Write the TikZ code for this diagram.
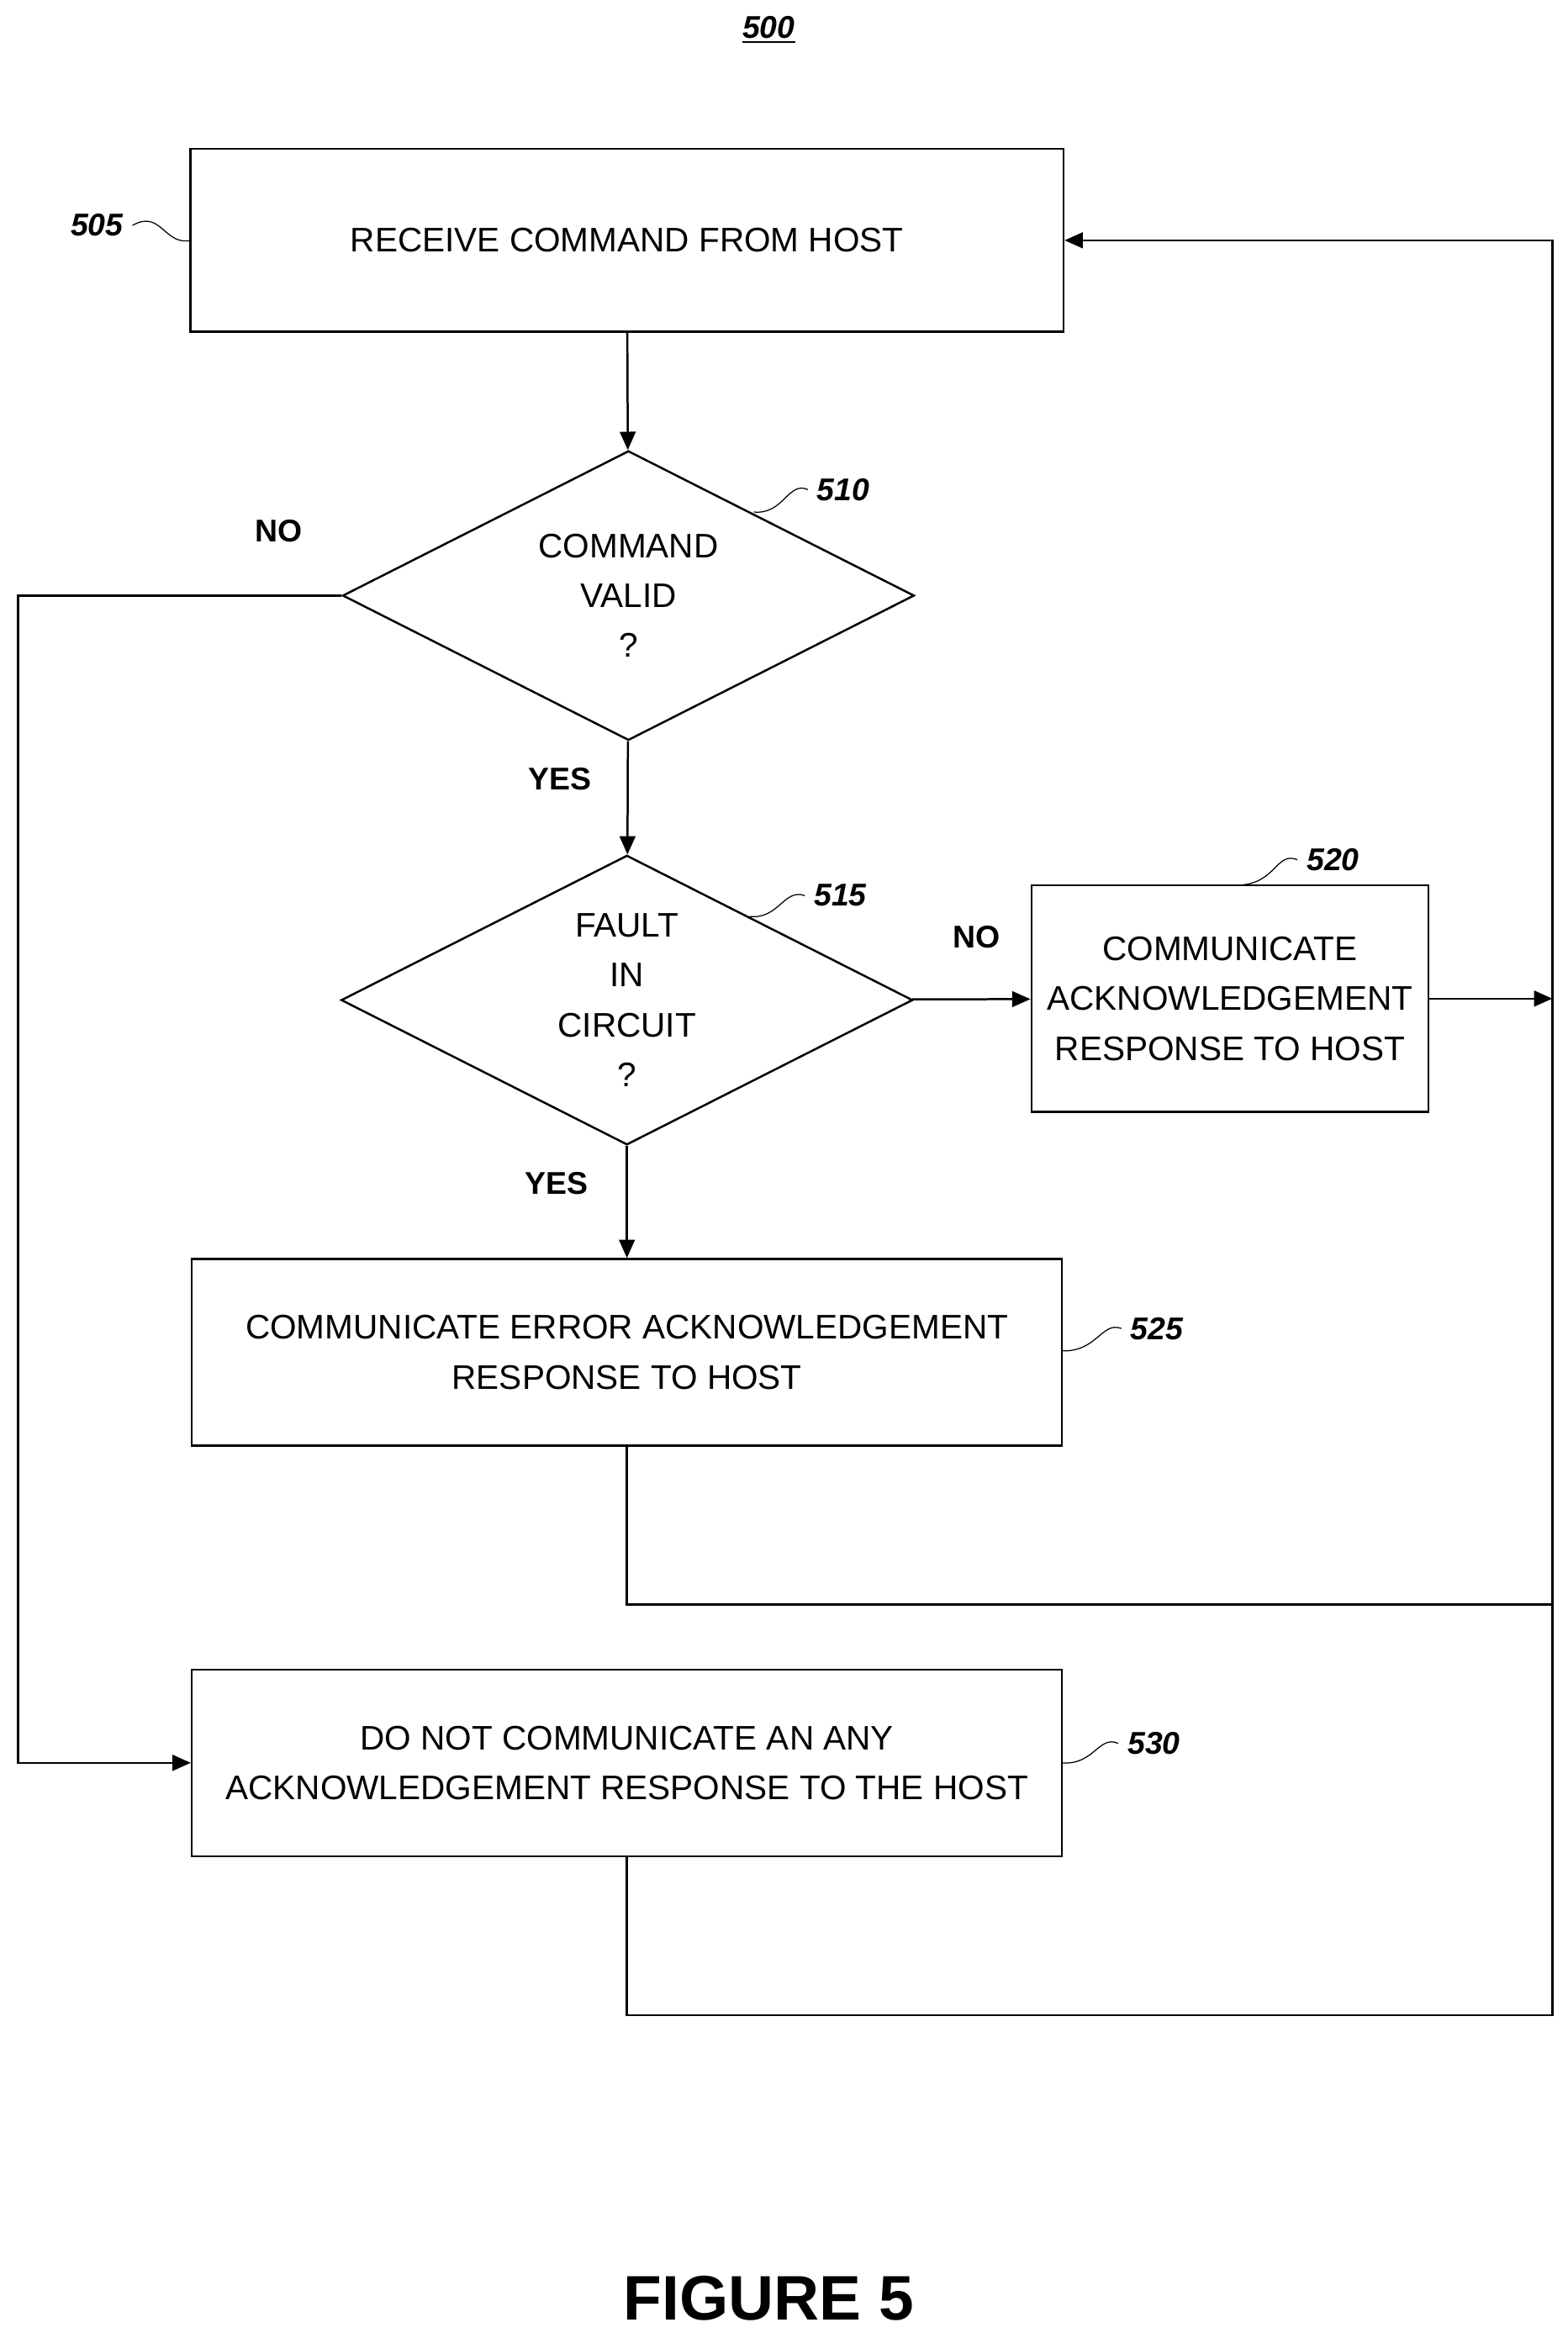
\documentclass[tikz,border=0pt]{standalone}
\usepackage{fontspec}
\setmainfont{Liberation Sans}
\usetikzlibrary{arrows.meta, calc, shapes.geometric}

\begin{document}
\begin{tikzpicture}[x=0.02cm, y=-0.02cm,
                box/.style={draw, thick, minimum width=11.7cm, minimum height=2.45cm, align=center},
                dec/.style={diamond, draw, thick, aspect=1.97, minimum width=7.66cm, minimum height=3.88cm, align=center, inner sep=0pt},
                lab/.style={font=\bfseries\fontsize{12}{14}\selectfont},
                ref/.style={font=\bfseries\itshape\fontsize{12}{14}\selectfont},
                flow/.style={thick, -{Triangle[length=7pt, width=6pt]}}]
            \useasboundingbox (0,0) rectangle (1050,1563);
            \tikzset{every node/.append style={font=\fontsize{13}{19}\selectfont}}
            \node at (515,20)[ref]{\underline{500}};
            \node(recv)[box] at (420,161) {RECEIVE COMMAND FROM HOST};
            \node(valid)[dec] at (421,399) {COMMAND\\VALID\\?};
            \node(fault)[dec] at (420,670) {FAULT\\IN\\CIRCUIT\\?};
            \node(ack)[box, minimum width=5.32cm, minimum height=3.04cm] at (824,669) {COMMUNICATE\\ACKNOWLEDGEMENT\\RESPONSE TO HOST};
            \node(err)[box, minimum width=11.66cm, minimum height=2.5cm] at (420,906) {COMMUNICATE ERROR ACKNOWLEDGEMENT\\RESPONSE TO HOST};
            \node(none)[box, minimum width=11.66cm, minimum height=2.5cm] at (420,1181) {DO NOT COMMUNICATE AN ANY\\ACKNOWLEDGEMENT RESPONSE TO THE HOST};
            % loop back line
            \coordinate(top) at (1040,161);
            \coordinate(mid) at (1040,669);
            \coordinate(lowA) at (1040,1075);
            \coordinate(lowB) at (1040,1350);
            \coordinate(left) at (12,399);
            \draw[flow](recv)--(valid);
            \draw[flow](valid)--(fault);
            \draw[flow](fault)--(err);
            \draw[flow](fault)--(ack);
            \draw[flow](ack)--(mid);
            \draw[flow](valid.west)--(left)|-(none.west);
            \draw[thick](err.south)|-(lowA);
            \draw[flow](none.south)|-(lowB)--(top)--(recv.east);
            % labels
            \node at (187,356)[lab]{NO};
            \node at (375,522)[lab]{YES};
            \node at (373,793)[lab]{YES};
            \node at (654,628)[lab]{NO};
            \node(r505) at (65,151)[ref]{505};
            \node(r510) at (565,328)[ref]{510};
            \node(r515) at (563,600)[ref]{515};
            \node(r520) at (893,576)[ref]{520};
            \node(r525) at (775,890)[ref]{525};
            \node(r530) at (773,1168)[ref]{530};
            \draw (r505.east) .. controls (108,140) and (110,165) .. (128,161);
            \draw (r510.west) .. controls (528,322) and (525,345) .. (505,343);
            \draw (r515.west) .. controls (525,595) and (522,616) .. (502,614);
            \draw (r520.west) .. controls (855,570) and (855,592) .. (830,593);
            \draw (r525.west) .. controls (738,885) and (735,906) .. (711,905);
            \draw (r530.west) .. controls (736,1162) and (733,1183) .. (711,1181);
            \node at (515,1540)[font=\bfseries\fontsize{24}{28}\selectfont]{FIGURE 5};
        \end{tikzpicture}
\end{document}
